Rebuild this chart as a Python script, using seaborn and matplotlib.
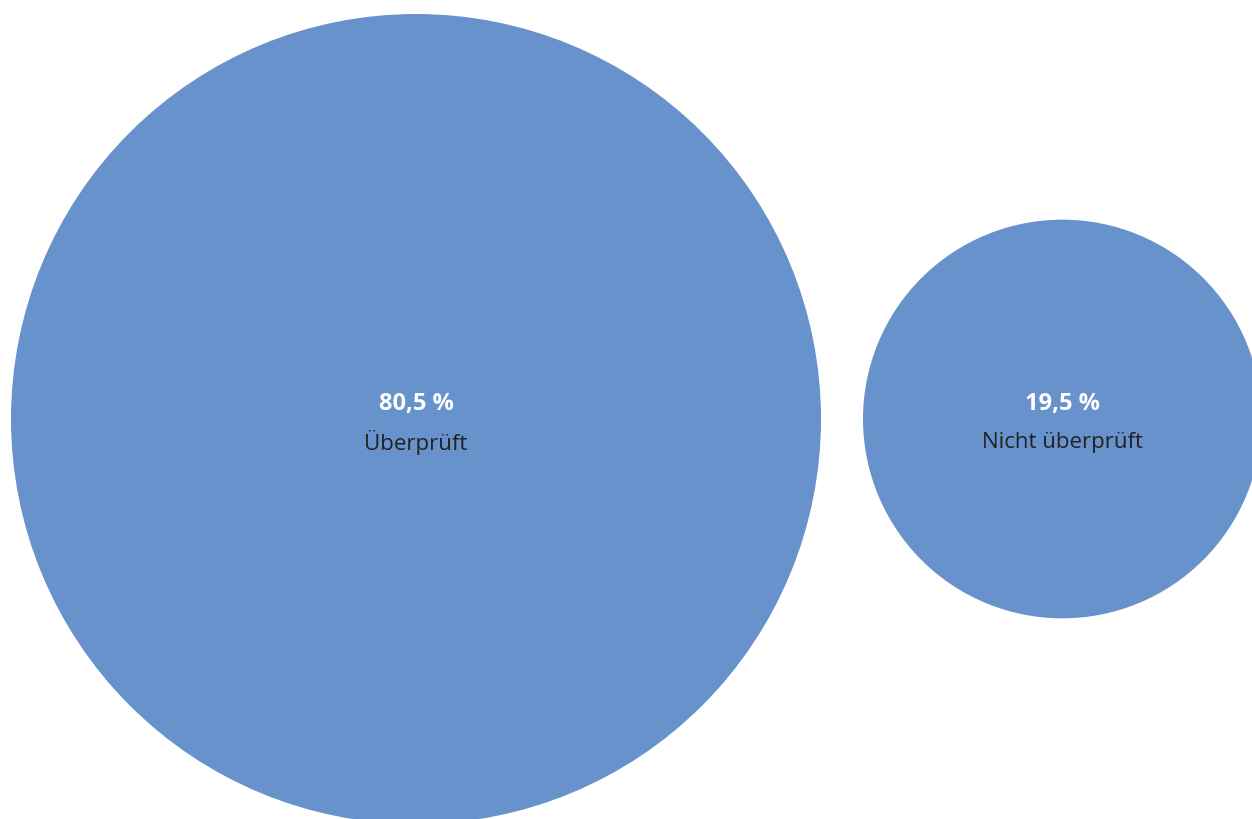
import pandas as pd
import matplotlib.pyplot as plt
import seaborn as sns

categories = ["Überprüft", "Nicht überprüft"]
values = [80.5, 19.5]
value_labels = ["80,5 %", "19,5 %"]

sns.set_theme(style="white")
plt.rcParams['font.family'] = ['Open Sans', 'DejaVu Sans']

W, H, DPI = 1252, 820, 100
COLOR = "#6892cb"

# Kreisfläche proportional zum Anteil
r_max = 405
radii = [r_max * (v / max(values)) ** 0.5 for v in values]
cx = [11 + radii[0]]
cx.append(cx[0] + radii[0] + 42 + radii[1])
cy = 420

df = pd.DataFrame({"kategorie": categories, "wert": values,
                   "x": cx, "y": [cy, cy]})
# Marker-Durchmesser in Punkten: Pixel * 72 / dpi
size_map = {v: (2 * r * 72 / DPI) ** 2 for v, r in zip(values, radii)}

fig = plt.figure(figsize=(W / DPI, H / DPI), dpi=DPI)
ax = fig.add_axes([0, 0, 1, 1])
sns.scatterplot(data=df, x="x", y="y", size="wert", sizes=size_map,
                color=COLOR, linewidth=0, legend=False, ax=ax, zorder=1)
ax.set_xlim(0, W)
ax.set_ylim(H, 0)
ax.axis("off")

for x, lab, cat in zip(cx, value_labels, categories):
    ax.text(x, 404, lab, ha="center", va="center", color="white",
            fontsize=17, fontweight="bold", zorder=2)
    ax.text(x, 443, cat, ha="center", va="center", color="#222222",
            fontsize=16, zorder=2)

fig.savefig("out.png", dpi=DPI)
